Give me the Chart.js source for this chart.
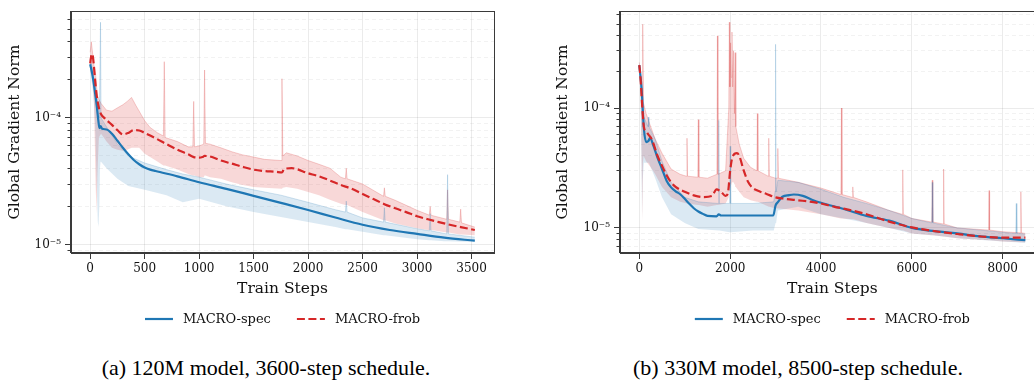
<!DOCTYPE html>
<html>
<head>
<meta charset="utf-8">
<script src="https://cdn.jsdelivr.net/npm/chart.js@4.4.1/dist/chart.umd.min.js"></script>
<style>
  html, body { margin: 0; padding: 0; background: #fff; overflow: hidden; width: 1034px; height: 382px; }
  canvas { position: absolute; top: 0; }
  #leftChart { left: 0; }
  #rightChart { left: 517px; }
  .caption {
    position: absolute; top: 356px; line-height: 24px;
    font-family: 'Liberation Serif', 'Times New Roman', serif; font-size: 22px; color: #000;
    white-space: nowrap; transform: translateX(-50%);
  }
</style>
</head>
<body>
<canvas id="leftChart" width="517" height="340"></canvas>
<canvas id="rightChart" width="540" height="340"></canvas>
<div class="caption" style="left:266px">(a) 120M model, 3600-step schedule.</div>
<div class="caption" style="left:798px">(b) 330M model, 8500-step schedule.</div>

<script>
/* =========================
   DATA
========================= */

// (a) 120M model, smoothed curves
const LEFT_SPEC_STEPS = [0, 20, 40, 60, 75, 85, 95, 110, 150, 200, 250, 300, 350, 400, 450, 500, 550, 600, 800, 1000, 1250, 1500, 1750, 2000, 2250, 2500, 2750, 3000, 3250, 3530];
const LEFT_SPEC = [2.65e-4, 2.2e-4, 1.7e-4, 1.25e-4, 9.5e-5, 8.3e-5, 8.6e-5, 8.2e-5, 8.1e-5, 7.5e-5, 6.6e-5, 5.8e-5, 5.15e-5, 4.65e-5, 4.3e-5, 4.05e-5, 3.9e-5, 3.8e-5, 3.45e-5, 3.1e-5, 2.75e-5, 2.42e-5, 2.13e-5, 1.87e-5, 1.63e-5, 1.43e-5, 1.3e-5, 1.21e-5, 1.13e-5, 1.07e-5];

const LEFT_FROB_STEPS = [0, 10, 20, 30, 45, 60, 80, 100, 130, 200, 250, 300, 350, 400, 450, 500, 600, 700, 800, 900, 950, 1000, 1030, 1050, 1100, 1200, 1300, 1400, 1500, 1600, 1700, 1760, 1780, 1850, 2000, 2100, 2200, 2300, 2400, 2500, 2600, 2700, 2800, 2900, 3000, 3100, 3200, 3300, 3400, 3530];
const LEFT_FROB = [2.7e-4, 3.1e-4, 3.2e-4, 2.8e-4, 2.0e-4, 1.5e-4, 1.2e-4, 1.07e-4, 1.0e-4, 8.8e-5, 8.0e-5, 7.4e-5, 7.6e-5, 8.0e-5, 7.95e-5, 7.6e-5, 6.9e-5, 6.2e-5, 5.6e-5, 5.15e-5, 4.9e-5, 4.85e-5, 4.9e-5, 5.0e-5, 4.95e-5, 4.6e-5, 4.35e-5, 4.1e-5, 3.9e-5, 3.8e-5, 3.75e-5, 3.7e-5, 3.95e-5, 4.0e-5, 3.65e-5, 3.45e-5, 3.2e-5, 2.95e-5, 2.75e-5, 2.5e-5, 2.28e-5, 2.08e-5, 1.93e-5, 1.8e-5, 1.67e-5, 1.58e-5, 1.5e-5, 1.43e-5, 1.37e-5, 1.3e-5];

// (a) raw traces, as upper / lower envelope
const LEFT_FROB_RAW_STEPS = [0, 10, 20, 35, 50, 58, 66, 80, 100, 150, 200, 250, 300, 340, 380, 420, 450, 500, 550, 620, 672, 680, 688, 800, 900, 942, 950, 958, 1000, 1042, 1050, 1058, 1100, 1200, 1300, 1400, 1500, 1600, 1752, 1760, 1768, 1800, 1900, 2000, 2100, 2200, 2300, 2342, 2350, 2358, 2500, 2692, 2700, 2708, 2800, 3000, 3100, 3112, 3120, 3128, 3272, 3280, 3288, 3392, 3400, 3408, 3530];
const LEFT_FROB_RAW_HI = [3.3e-4, 4.0e-4, 3.4e-4, 2.6e-4, 2.2e-4, 1.8e-4, 1.5e-4, 1.4e-4, 1.3e-4, 1.15e-4, 1.13e-4, 1.2e-4, 1.27e-4, 1.35e-4, 1.45e-4, 1.25e-4, 1.13e-4, 9.5e-5, 8.4e-5, 7.6e-5, 7.2e-5, 2.78e-4, 7.0e-5, 6.5e-5, 5.9e-5, 5.9e-5, 1.35e-4, 5.9e-5, 6.0e-5, 6.2e-5, 2.39e-4, 6.3e-5, 6.2e-5, 5.8e-5, 5.4e-5, 5.1e-5, 4.9e-5, 4.7e-5, 4.6e-5, 2.04e-4, 5.0e-5, 5.3e-5, 5.0e-5, 4.6e-5, 4.3e-5, 4.0e-5, 3.4e-5, 3.3e-5, 4.0e-5, 3.3e-5, 3.0e-5, 2.4e-5, 2.8e-5, 2.4e-5, 2.23e-5, 1.86e-5, 1.72e-5, 1.7e-5, 2.0e-5, 1.7e-5, 1.58e-5, 2.7e-5, 1.58e-5, 1.5e-5, 1.9e-5, 1.48e-5, 1.37e-5];
const LEFT_FROB_RAW_LO = [2.2e-4, 2.4e-4, 2.0e-4, 1.3e-4, 3.0e-5, 1.76e-5, 3.5e-5, 7.0e-5, 7.5e-5, 6.5e-5, 5.8e-5, 5.6e-5, 5.5e-5, 5.6e-5, 5.8e-5, 5.8e-5, 5.8e-5, 5.2e-5, 4.9e-5, 4.5e-5, 4.2e-5, 4.2e-5, 4.2e-5, 3.9e-5, 3.6e-5, 3.5e-5, 3.5e-5, 3.5e-5, 3.4e-5, 3.4e-5, 3.5e-5, 3.5e-5, 3.4e-5, 3.3e-5, 3.1e-5, 2.95e-5, 2.84e-5, 2.8e-5, 2.75e-5, 2.75e-5, 2.8e-5, 2.84e-5, 2.75e-5, 2.6e-5, 2.45e-5, 2.25e-5, 2.1e-5, 2.05e-5, 2.05e-5, 2.05e-5, 1.8e-5, 1.55e-5, 1.55e-5, 1.55e-5, 1.46e-5, 1.34e-5, 1.3e-5, 1.3e-5, 1.3e-5, 1.3e-5, 1.24e-5, 1.24e-5, 1.24e-5, 1.2e-5, 1.2e-5, 1.2e-5, 1.18e-5];

const LEFT_SPEC_RAW_STEPS = [0, 15, 30, 45, 60, 70, 76, 84, 90, 95, 100, 150, 250, 350, 500, 700, 850, 1000, 1250, 1500, 1750, 2000, 2250, 2342, 2350, 2358, 2500, 2692, 2700, 2708, 3000, 3112, 3120, 3128, 3250, 3272, 3280, 3288, 3530];
const LEFT_SPEC_RAW_HI = [2.9e-4, 2.6e-4, 2.2e-4, 1.8e-4, 1.5e-4, 1.3e-4, 1.1e-4, 1.0e-4, 1.0e-4, 5.7e-4, 1.0e-4, 8.5e-5, 6.2e-5, 5.0e-5, 4.4e-5, 3.9e-5, 3.6e-5, 3.4e-5, 3.0e-5, 2.7e-5, 2.45e-5, 2.15e-5, 1.88e-5, 1.8e-5, 2.2e-5, 1.8e-5, 1.62e-5, 1.5e-5, 1.95e-5, 1.5e-5, 1.33e-5, 1.28e-5, 1.75e-5, 1.28e-5, 1.22e-5, 1.21e-5, 3.56e-5, 1.21e-5, 1.14e-5];
const LEFT_SPEC_RAW_LO = [2.3e-4, 1.9e-4, 1.5e-4, 9.0e-5, 3.0e-5, 1.5e-5, 1.38e-5, 2.0e-5, 4.0e-5, 4.5e-5, 4.5e-5, 4.0e-5, 3.3e-5, 2.9e-5, 2.7e-5, 2.45e-5, 2.15e-5, 2.3e-5, 2.0e-5, 1.8e-5, 1.65e-5, 1.5e-5, 1.37e-5, 1.32e-5, 1.32e-5, 1.32e-5, 1.26e-5, 1.18e-5, 1.18e-5, 1.18e-5, 1.1e-5, 1.08e-5, 1.08e-5, 1.08e-5, 1.06e-5, 1.06e-5, 1.06e-5, 1.06e-5, 1.045e-5];

// (b) 330M model, smoothed curves
const RIGHT_SPEC_STEPS = [0, 50, 100, 150, 200, 240, 300, 400, 500, 600, 700, 800, 900, 1000, 1100, 1200, 1300, 1400, 1500, 1700, 1750, 1800, 2400, 2950, 3000, 3050, 3150, 3300, 3400, 3600, 3800, 4000, 4500, 5000, 5500, 6000, 6500, 7000, 7500, 8000, 8500];
const RIGHT_SPEC = [2.28e-4, 1.46e-4, 6.8e-5, 5.2e-5, 5.3e-5, 5.65e-5, 4.98e-5, 3.86e-5, 3.1e-5, 2.48e-5, 2.18e-5, 2.02e-5, 1.91e-5, 1.75e-5, 1.59e-5, 1.46e-5, 1.37e-5, 1.31e-5, 1.26e-5, 1.25e-5, 1.3e-5, 1.27e-5, 1.27e-5, 1.27e-5, 1.54e-5, 1.64e-5, 1.82e-5, 1.88e-5, 1.9e-5, 1.85e-5, 1.72e-5, 1.62e-5, 1.44e-5, 1.26e-5, 1.15e-5, 1.0e-5, 9.4e-6, 9.0e-6, 8.5e-6, 8.2e-6, 7.9e-6];

const RIGHT_FROB_STEPS = [0, 30, 60, 100, 150, 200, 250, 300, 400, 500, 600, 700, 800, 1000, 1200, 1400, 1600, 1700, 1800, 1900, 1950, 2000, 2050, 2150, 2200, 2300, 2400, 2500, 2600, 2800, 3000, 3200, 3500, 3800, 4000, 4300, 4500, 5000, 5500, 6000, 6500, 7000, 7500, 8000, 8500];
const RIGHT_FROB = [2.28e-4, 1.7e-4, 1.1e-4, 7.0e-5, 6.4e-5, 6.0e-5, 5.7e-5, 5.2e-5, 4.0e-5, 3.3e-5, 2.75e-5, 2.4e-5, 2.2e-5, 2.0e-5, 1.87e-5, 1.81e-5, 1.85e-5, 2.1e-5, 2.0e-5, 1.85e-5, 1.95e-5, 3.0e-5, 3.9e-5, 4.2e-5, 4.0e-5, 3.0e-5, 2.4e-5, 2.15e-5, 2.05e-5, 1.92e-5, 1.8e-5, 1.75e-5, 1.7e-5, 1.65e-5, 1.6e-5, 1.5e-5, 1.45e-5, 1.3e-5, 1.13e-5, 1.01e-5, 9.4e-6, 8.9e-6, 8.5e-6, 8.3e-6, 8.3e-6];

// (b) raw traces, as upper / lower envelope
const RIGHT_FROB_RAW_STEPS = [0, 30, 50, 62, 70, 80, 92, 150, 250, 350, 500, 700, 900, 1038, 1050, 1062, 1288, 1300, 1312, 1500, 1708, 1720, 1732, 1900, 1970, 1982, 1995, 2010, 2025, 2040, 2055, 2075, 2095, 2110, 2125, 2200, 2300, 2450, 2588, 2600, 2612, 2838, 2850, 2862, 3000, 3038, 3050, 3062, 3500, 4000, 4438, 4450, 4462, 4688, 4700, 4712, 5000, 5500, 5788, 5800, 5812, 6000, 6438, 6450, 6462, 6688, 6700, 6712, 7000, 7688, 7700, 7712, 8000, 8388, 8400, 8412, 8500];
const RIGHT_FROB_RAW_HI = [2.4e-4, 1.9e-4, 1.5e-4, 1.3e-4, 1.2e-4, 5.0e-4, 1.1e-4, 9.0e-5, 7.0e-5, 5.5e-5, 4.2e-5, 3.1e-5, 2.8e-5, 2.7e-5, 5.6e-5, 2.7e-5, 2.65e-5, 8.0e-5, 2.65e-5, 2.6e-5, 2.8e-5, 4.0e-4, 2.8e-5, 3.0e-5, 1.0e-4, 5.2e-4, 1.5e-4, 3.5e-4, 1.8e-4, 4.3e-4, 1.5e-4, 3.0e-4, 9.0e-5, 2.9e-4, 7.0e-5, 5.0e-5, 3.8e-5, 3.2e-5, 3.0e-5, 9.0e-5, 3.0e-5, 2.7e-5, 5.6e-5, 2.7e-5, 2.6e-5, 2.6e-5, 4.6e-5, 2.6e-5, 2.4e-5, 2.15e-5, 1.9e-5, 1.0e-4, 1.9e-5, 1.8e-5, 2.2e-5, 1.8e-5, 1.65e-5, 1.4e-5, 1.3e-5, 3.05e-5, 1.3e-5, 1.2e-5, 1.12e-5, 2.5e-5, 1.12e-5, 1.08e-5, 3.1e-5, 1.08e-5, 1.0e-5, 9.6e-6, 2.05e-5, 9.6e-6, 9.3e-6, 9.1e-6, 2.0e-5, 9.1e-6, 9.0e-6];
const RIGHT_FROB_RAW_LO = [2.0e-4, 1.2e-4, 4.0e-5, 1.12e-5, 2.5e-5, 3.5e-5, 4.0e-5, 3.6e-5, 3.2e-5, 2.8e-5, 2.2e-5, 1.8e-5, 1.65e-5, 1.6e-5, 1.6e-5, 1.6e-5, 1.55e-5, 1.55e-5, 1.55e-5, 1.5e-5, 1.55e-5, 1.55e-5, 1.55e-5, 1.6e-5, 1.8e-5, 2.0e-5, 2.1e-5, 2.2e-5, 2.3e-5, 2.4e-5, 2.4e-5, 2.4e-5, 2.3e-5, 2.3e-5, 2.2e-5, 2.0e-5, 1.8e-5, 1.7e-5, 1.65e-5, 1.65e-5, 1.65e-5, 1.5e-5, 1.5e-5, 1.5e-5, 1.45e-5, 1.45e-5, 1.45e-5, 1.45e-5, 1.4e-5, 1.3e-5, 1.2e-5, 1.2e-5, 1.2e-5, 1.18e-5, 1.18e-5, 1.18e-5, 1.1e-5, 1.0e-5, 9.5e-6, 9.5e-6, 9.5e-6, 9.0e-6, 8.7e-6, 8.7e-6, 8.7e-6, 8.5e-6, 8.5e-6, 8.5e-6, 8.2e-6, 7.9e-6, 7.9e-6, 7.9e-6, 7.7e-6, 7.6e-6, 7.6e-6, 7.6e-6, 7.6e-6];

const RIGHT_SPEC_RAW_STEPS = [0, 30, 50, 60, 75, 100, 188, 200, 212, 350, 500, 700, 1000, 1300, 1738, 1750, 1762, 1988, 2000, 2012, 2500, 2960, 2988, 3000, 3012, 3050, 3500, 4000, 4500, 5000, 5500, 6000, 6438, 6450, 6462, 7000, 8000, 8288, 8300, 8312, 8500];
const RIGHT_SPEC_RAW_HI = [2.3e-4, 1.8e-4, 1.4e-4, 1.2e-4, 1.0e-4, 8.5e-5, 7.0e-5, 8.4e-5, 7.0e-5, 5.5e-5, 3.6e-5, 2.4e-5, 1.8e-5, 1.65e-5, 1.6e-5, 7.9e-5, 1.6e-5, 1.6e-5, 4.8e-5, 1.6e-5, 1.6e-5, 1.65e-5, 2.0e-5, 3.4e-4, 2.0e-5, 2.5e-5, 2.4e-5, 2.1e-5, 1.8e-5, 1.6e-5, 1.4e-5, 1.2e-5, 1.1e-5, 2.4e-5, 1.1e-5, 1.0e-5, 9.2e-6, 9.0e-6, 1.6e-5, 9.0e-6, 8.9e-6];
const RIGHT_SPEC_RAW_LO = [1.9e-4, 1.1e-4, 3.0e-5, 1.2e-5, 2.5e-5, 3.5e-5, 3.5e-5, 3.5e-5, 3.5e-5, 2.6e-5, 1.8e-5, 1.3e-5, 1.1e-5, 9.8e-6, 9.5e-6, 9.5e-6, 9.5e-6, 9.2e-6, 9.2e-6, 9.2e-6, 9.5e-6, 9.5e-6, 1.1e-5, 1.1e-5, 1.1e-5, 1.4e-5, 1.5e-5, 1.3e-5, 1.2e-5, 1.1e-5, 1.0e-5, 9.0e-6, 8.7e-6, 8.7e-6, 8.7e-6, 8.2e-6, 7.7e-6, 7.6e-6, 7.6e-6, 7.6e-6, 7.5e-6];

// ticks
const LEFT_X_TICKS = [0, 500, 1000, 1500, 2000, 2500, 3000, 3500];
const RIGHT_X_TICKS = [0, 2000, 4000, 6000, 8000];
const Y_MAJOR = [1e-5, 1e-4];
const Y_MAJOR_LABELS = ['10\u207B\u2075', '10\u207B\u2074'];
const LEFT_Y_MINOR = [9e-6, 2e-5, 3e-5, 4e-5, 5e-5, 6e-5, 7e-5, 8e-5, 9e-5, 2e-4, 3e-4, 4e-4, 5e-4, 6e-4];
const RIGHT_Y_MINOR = [7e-6, 8e-6, 9e-6, 2e-5, 3e-5, 4e-5, 5e-5, 6e-5, 7e-5, 8e-5, 9e-5, 2e-4, 3e-4, 4e-4, 5e-4, 6e-4];

/* =========================
   STYLE
========================= */
Chart.defaults.font.family = "'DejaVu Serif', serif";
Chart.defaults.color = '#111';

const BLUE = '#1f77b4';
const RED = '#d62728';
const BLUE_RAW = 'rgba(31,119,180,0.16)';
const RED_RAW = 'rgba(214,39,40,0.18)';
const BLUE_SPIKE = 'rgba(31,119,180,0.22)';
const RED_SPIKE = 'rgba(214,39,40,0.24)';
const SPINE = '#3a3a3a';

const pts = (xs, ys) => xs.map((x, i) => ({ x, y: ys[i] }));

// box around the plot area, like matplotlib spines
const framePlugin = {
  id: 'frame',
  afterDraw(chart) {
    const { ctx, chartArea: a } = chart;
    ctx.save();
    ctx.strokeStyle = SPINE;
    ctx.lineWidth = 1;
    ctx.strokeRect(Math.round(a.left) - 0.5, Math.round(a.top) + 0.5,
      Math.round(a.right - a.left) + 1, Math.round(a.bottom - a.top) - 1);
    ctx.restore();
  }
};

// legend row under the x title
const lineLegend = {
  id: 'lineLegend',
  afterDraw(chart, args, opts) {
    const { ctx, chartArea: a } = chart;
    const items = chart.data.datasets.filter(d => d.inLegend);
    ctx.save();
    ctx.font = "13px 'DejaVu Serif'";
    const handle = 28, pad = 10, gap = 26;
    const widths = items.map(d => handle + pad + ctx.measureText(d.label).width);
    const total = widths.reduce((s, w) => s + w, 0) + gap * (items.length - 1);
    let x = (a.left + a.right) / 2 - total / 2;
    items.forEach((d, i) => {
      ctx.strokeStyle = d.borderColor;
      ctx.lineWidth = d.borderWidth;
      ctx.setLineDash(d.borderDash || []);
      ctx.beginPath();
      ctx.moveTo(x, opts.y);
      ctx.lineTo(x + handle, opts.y);
      ctx.stroke();
      ctx.setLineDash([]);
      ctx.fillStyle = '#111';
      ctx.textBaseline = 'middle';
      ctx.fillText(d.label, x + handle + pad, opts.y + 1);
      x += widths[i] + gap;
    });
    ctx.restore();
  }
};

function makeChart(id, cfg) {
  const datasets = [
    { label: 'MACRO-spec', inLegend: true, data: pts(cfg.specSteps, cfg.spec), borderColor: BLUE, borderWidth: 2.2, order: 1,
      cubicInterpolationMode: 'monotone' },
    { label: 'MACRO-frob', inLegend: true, data: pts(cfg.frobSteps, cfg.frob), borderColor: RED, borderWidth: 2.2, borderDash: [8, 3.5], order: 0,
      cubicInterpolationMode: 'monotone' },
    { label: 'frob raw hi', data: pts(cfg.frobRawSteps, cfg.frobRawHi), borderColor: RED_SPIKE, borderWidth: 0.9, backgroundColor: RED_RAW, fill: '+1', order: 3 },
    { label: 'frob raw lo', data: pts(cfg.frobRawSteps, cfg.frobRawLo), borderWidth: 0, fill: false, order: 4 },
    { label: 'spec raw hi', data: pts(cfg.specRawSteps, cfg.specRawHi), borderColor: BLUE_SPIKE, borderWidth: 0.9, backgroundColor: BLUE_RAW, fill: '+1', order: 2 },
    { label: 'spec raw lo', data: pts(cfg.specRawSteps, cfg.specRawLo), borderWidth: 0, fill: false, order: 5 }
  ];

  return new Chart(document.getElementById(id), {
    type: 'line',
    data: { datasets },
    options: {
      responsive: false,
      animation: false,
      events: [],
      elements: { point: { radius: 0 }, line: { tension: 0 } },
      layout: { padding: { top: 9, right: cfg.padRight, bottom: 40, left: 0 } },
      plugins: {
        legend: { display: false },
        tooltip: { enabled: false },
        lineLegend: { y: 319 }
      },
      scales: {
        x: {
          type: 'linear', min: cfg.xMin, max: cfg.xMax,
          afterBuildTicks: s => { s.ticks = cfg.xTicks.map(v => ({ value: v })); },
          ticks: { font: { size: 12 }, padding: 3, maxRotation: 0, autoSkip: false, callback: v => String(v) },
          grid: { color: 'rgba(0,0,0,0.08)', tickColor: SPINE, tickLength: 6 },
          border: { color: SPINE },
          title: { display: true, text: 'Train Steps', font: { size: 15.5 }, padding: { top: 0, bottom: 2 } },
          afterFit: s => { s.height = 47; }
        },
        y: {
          type: 'logarithmic', position: 'left', weight: 1, min: cfg.yMin, max: cfg.yMax,
          afterBuildTicks: s => { s.ticks = Y_MAJOR.map(v => ({ value: v, major: true })); },
          ticks: { font: { size: 12 }, padding: 4, autoSkip: false,
            callback: v => Y_MAJOR_LABELS[Y_MAJOR.indexOf(v)] },
          grid: { color: 'rgba(0,0,0,0.08)', tickColor: SPINE, tickLength: 6 },
          border: { color: SPINE },
          title: { display: true, text: 'Global Gradient Norm', font: { size: 15.5 }, padding: { top: cfg.yTitlePad } },
          afterFit: s => { s.width = cfg.yWidth; }
        },
        yMinor: {
          type: 'logarithmic', position: 'left', weight: 0, min: cfg.yMin, max: cfg.yMax,
          afterBuildTicks: s => { s.ticks = cfg.yMinor.map(v => ({ value: v })); },
          ticks: { display: false, autoSkip: false },
          grid: { color: 'rgba(0,0,0,0.05)', tickColor: SPINE, tickLength: 3.5 },
          border: { display: false, dash: [4, 3] },
          afterFit: s => { s.width = 0; }
        }
      }
    },
    plugins: [framePlugin, lineLegend]
  });
}

/* =========================
   CHARTS
========================= */
makeChart('leftChart', {
  specSteps: LEFT_SPEC_STEPS, spec: LEFT_SPEC,
  frobSteps: LEFT_FROB_STEPS, frob: LEFT_FROB,
  frobRawSteps: LEFT_FROB_RAW_STEPS, frobRawHi: LEFT_FROB_RAW_HI, frobRawLo: LEFT_FROB_RAW_LO,
  specRawSteps: LEFT_SPEC_RAW_STEPS, specRawHi: LEFT_SPEC_RAW_HI, specRawLo: LEFT_SPEC_RAW_LO,
  xMin: -176, xMax: 3706, xTicks: LEFT_X_TICKS,
  yMin: 8.55e-6, yMax: 6.97e-4, yMinor: LEFT_Y_MINOR,
  yWidth: 71, yTitlePad: 5.7, padRight: 23
});

makeChart('rightChart', {
  specSteps: RIGHT_SPEC_STEPS, spec: RIGHT_SPEC,
  frobSteps: RIGHT_FROB_STEPS, frob: RIGHT_FROB,
  frobRawSteps: RIGHT_FROB_RAW_STEPS, frobRawHi: RIGHT_FROB_RAW_HI, frobRawLo: RIGHT_FROB_RAW_LO,
  specRawSteps: RIGHT_SPEC_RAW_STEPS, specRawHi: RIGHT_SPEC_RAW_HI, specRawLo: RIGHT_SPEC_RAW_LO,
  xMin: -425, xMax: 8925, xTicks: RIGHT_X_TICKS,
  yMin: 6.18e-6, yMax: 6.42e-4, yMinor: RIGHT_Y_MINOR,
  yWidth: 103, yTitlePad: 36.7, padRight: 12.3
});
</script>
</body>
</html>
